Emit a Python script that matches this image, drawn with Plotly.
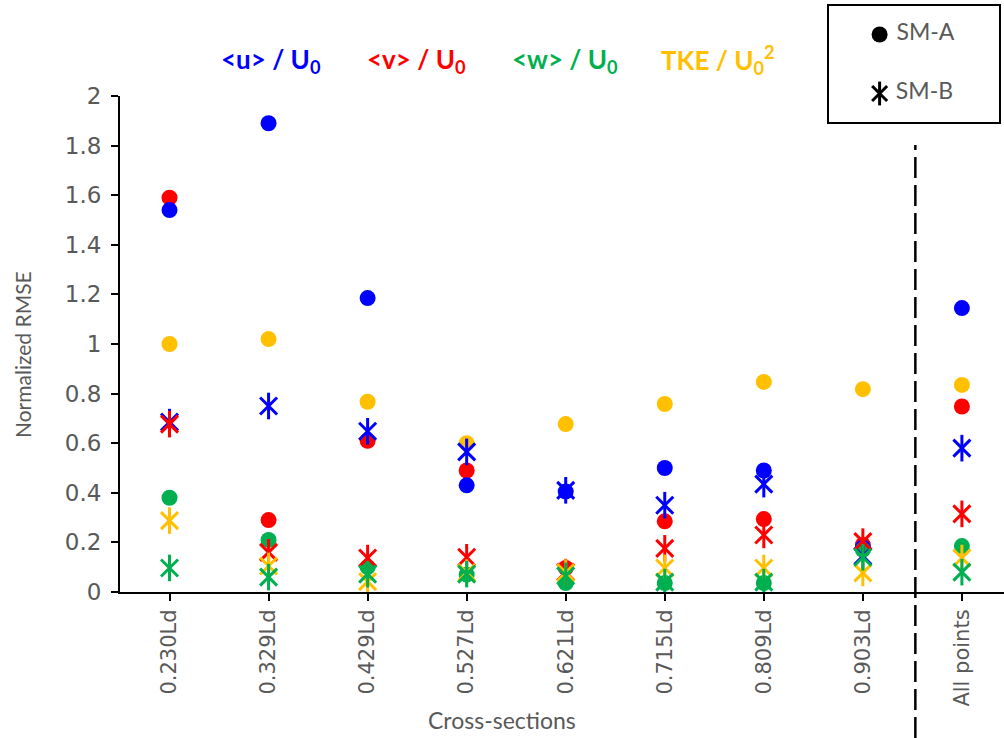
import plotly.graph_objects as go

categories = ["0.230Ld", "0.329Ld", "0.429Ld", "0.527Ld", "0.621Ld",
              "0.715Ld", "0.809Ld", "0.903Ld", "All points"]

# SM-A (circles)
u_A = [1.54, 1.89, 1.185, 0.43, 0.405, 0.50, 0.49, 0.18, 1.145]
v_A = [1.59, 0.29, 0.61, 0.49, 0.097, 0.285, 0.294, 0.19, 0.748]
w_A = [0.38, 0.21, 0.10, 0.07, 0.036, 0.036, 0.036, 0.17, 0.185]
tke_A = [1.00, 1.02, 0.767, 0.60, 0.677, 0.758, 0.847, 0.818, 0.835]

# SM-B (stars)
u_B = [0.685, 0.75, 0.648, 0.565, 0.41, 0.35, 0.435, 0.145, 0.58]
v_B = [0.677, 0.16, 0.137, 0.14, 0.08, 0.176, 0.23, 0.203, 0.315]
w_B = [0.097, 0.06, 0.072, 0.072, 0.065, 0.04, 0.04, 0.14, 0.08]
tke_B = [0.288, 0.105, 0.042, 0.078, 0.078, 0.097, 0.097, 0.077, 0.137]

var_names = ["u", "v", "w", "TKE"]
var_colors = ["#0000FF", "#FF0000", "#00B050", "#FFC000"]
title_texts = ["&lt;u&gt; / U<sub>0</sub>", "&lt;v&gt; / U<sub>0</sub>",
               "&lt;w&gt; / U<sub>0</sub>", "TKE / U<sub>0</sub><sup>2</sup>"]
title_px = [271, 416, 565, 718]

legend_labels = ["SM-A", "SM-B"]

W, H = 1004, 738
L, T, B = 120, 96, 592

fig = go.Figure()

A_series = [u_A, v_A, w_A, tke_A]
B_series = [u_B, v_B, w_B, tke_B]

for i in [1, 0, 3, 2]:
    fig.add_trace(go.Scatter(
        x=categories, y=A_series[i], mode="markers", name=var_names[i] + " SM-A",
        marker=dict(symbol="circle", size=16, color=var_colors[i], line=dict(width=0)),
        showlegend=False))

for i in [0, 1, 3, 2]:
    for sym, sz in [("x-thin-open", 17), ("line-ns-open", 19)]:
        fig.add_trace(go.Scatter(
            x=categories, y=B_series[i], mode="markers", name=var_names[i] + " SM-B",
            marker=dict(symbol=sym, size=sz, color=var_colors[i],
                        line=dict(width=3, color=var_colors[i])),
            showlegend=False))

# legend box drawn as a small separate axes
fig.add_trace(go.Scatter(
    x=[0.3], y=[legend_labels[0]], mode="markers+text", text=[" " + legend_labels[0]],
    textposition="middle right",
    textfont=dict(family="Lato", size=23, color="#595959"),
    marker=dict(symbol="circle", size=16, color="black"),
    xaxis="x2", yaxis="y2", showlegend=False))
for sym, sz in [("x-thin-open", 15), ("line-ns-open", 17)]:
    fig.add_trace(go.Scatter(
        x=[0.3], y=[legend_labels[1]], mode="markers+text",
        text=[" " + legend_labels[1] if sym == "x-thin-open" else ""],
        textposition="middle right",
        textfont=dict(family="Lato", size=23, color="#595959"),
        marker=dict(symbol=sym, size=sz, color="black", line=dict(width=3, color="black")),
        xaxis="x2", yaxis="y2", showlegend=False))

fig.update_layout(
    width=W, height=H,
    margin=dict(l=0, r=0, t=0, b=0),
    paper_bgcolor="white", plot_bgcolor="white",
    font=dict(family="Lato", color="#595959"),
    xaxis=dict(
        domain=[L / W, 1.0],
        type="category", categoryorder="array", categoryarray=categories,
        range=[-0.5, 8.425],
        showline=True, linecolor="black", linewidth=2,
        ticks="outside", ticklen=7, tickwidth=2, tickcolor="black",
        tickangle=-90, tickfont=dict(family="DejaVu Sans", size=21, color="#595959"),
        showgrid=False, zeroline=False, automargin=False,
    ),
    yaxis=dict(
        domain=[(H - B) / H, (H - T) / H],
        range=[0, 2], dtick=0.2, tick0=0,
        showline=True, linecolor="black", linewidth=2,
        ticks="outside", ticklen=7, tickwidth=2, tickcolor="black",
        tickfont=dict(family="DejaVu Sans", size=23, color="#595959"),
        ticklabelstandoff=5,
        showgrid=False, zeroline=False, automargin=False,
    ),
    xaxis2=dict(domain=[828 / W, 1000 / W], range=[0, 1], visible=False,
                anchor="y2", fixedrange=True),
    yaxis2=dict(domain=[1 - 123 / H, 1 - 5 / H], type="category",
                categoryorder="array", categoryarray=["SM-B", "SM-A"],
                range=[-0.5, 1.5], visible=False, anchor="x2", fixedrange=True),
)

fig.add_shape(type="rect", xref="x2 domain", yref="y2 domain",
              x0=0, x1=1, y0=0, y1=1, line=dict(color="black", width=2))

fig.add_shape(type="line", xref="x", yref="paper",
              x0=7.53, x1=7.53, y0=0, y1=1 - 145 / H,
              line=dict(color="black", width=2.5, dash="21px,7px"))

for txt, col, px in zip(title_texts, var_colors, title_px):
    fig.add_annotation(text="<b>" + txt + "</b>", x=px / W, y=1 - 60 / H,
                       xref="paper", yref="paper", showarrow=False,
                       xanchor="center", yanchor="middle",
                       font=dict(family="Lato", size=26, color=col))

fig.add_annotation(text="Cross-sections", x=502 / W, y=1 - 720 / H,
                   xref="paper", yref="paper", showarrow=False,
                   xanchor="center", yanchor="middle",
                   font=dict(family="Lato", size=23, color="#595959"))
fig.add_annotation(text="Normalized RMSE", x=22 / W, y=1 - 355 / H,
                   xref="paper", yref="paper", showarrow=False, textangle=-90,
                   xanchor="center", yanchor="middle",
                   font=dict(family="Lato", size=21, color="#595959"))

fig.write_html("out.html", config={"displayModeBar": False},
               post_script="document.body.style.margin='0';")
